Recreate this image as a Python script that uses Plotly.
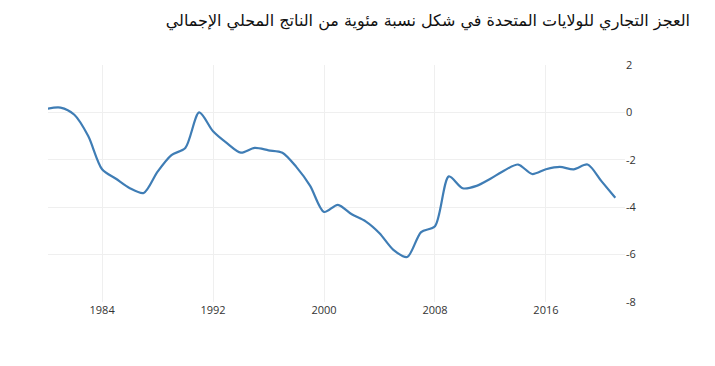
import plotly.graph_objects as go

years = list(range(1980, 2022))
balance = [0.15, 0.2, -0.1, -1.0, -2.4, -2.8, -3.2, -3.4, -2.5, -1.8,
           -1.5, 0.0, -0.8, -1.3, -1.7, -1.5, -1.6, -1.7, -2.3, -3.1,
           -4.2, -3.9, -4.3, -4.6, -5.1, -5.8, -6.1, -5.05, -4.8, -2.7,
           -3.2, -3.1, -2.8, -2.45, -2.2, -2.6, -2.4, -2.3, -2.4, -2.2,
           -2.9, -3.6]

x_ticks = [1984, 1992, 2000, 2008, 2016]
y_ticks = [2, 0, -2, -4, -6, -8]
y_labels = ["2", "0", "-2", "-4", "-6", "-8"]
title_text = "العجز التجاري للولايات المتحدة في شكل نسبة مئوية من الناتج المحلي الإجمالي"

W, H = 715, 366
OFF = 8  # page body offset

fig = go.Figure()
fig.add_trace(go.Scatter(
    x=years, y=balance, mode="lines",
    line=dict(color="#3f7db5", width=2.2, shape="spline", smoothing=0.8),
    hoverinfo="x+y", showlegend=False,
))

fig.update_layout(
    width=W, height=H,
    margin=dict(l=48 - OFF, r=W - (625 - OFF), t=65 - OFF, b=H - (302 - OFF)),
    paper_bgcolor="white", plot_bgcolor="white",
    title=dict(text=title_text, x=(690 - OFF) / W, xanchor="right", xref="container",
               y=1 - (20 - OFF) / H, yanchor="middle", yref="container",
               font=dict(family="DejaVu Sans, sans-serif", size=16, color="#111")),
    xaxis=dict(range=[1980.1, 2021.7], tickvals=x_ticks, ticktext=[str(t) for t in x_ticks],
               showgrid=True, gridcolor="#efefef", gridwidth=1, zeroline=False,
               showline=False, ticks="", tickfont=dict(family="Open Sans, DejaVu Sans", size=11, color="#333")),
    yaxis=dict(range=[-8, 2], side="right", tickvals=y_ticks, ticktext=y_labels,
               showgrid=True, gridcolor="#efefef", gridwidth=1, zeroline=False,
               showline=False, ticks="", tickfont=dict(family="Open Sans, DejaVu Sans", size=11, color="#333")),
)

fig.write_html("out.html")
